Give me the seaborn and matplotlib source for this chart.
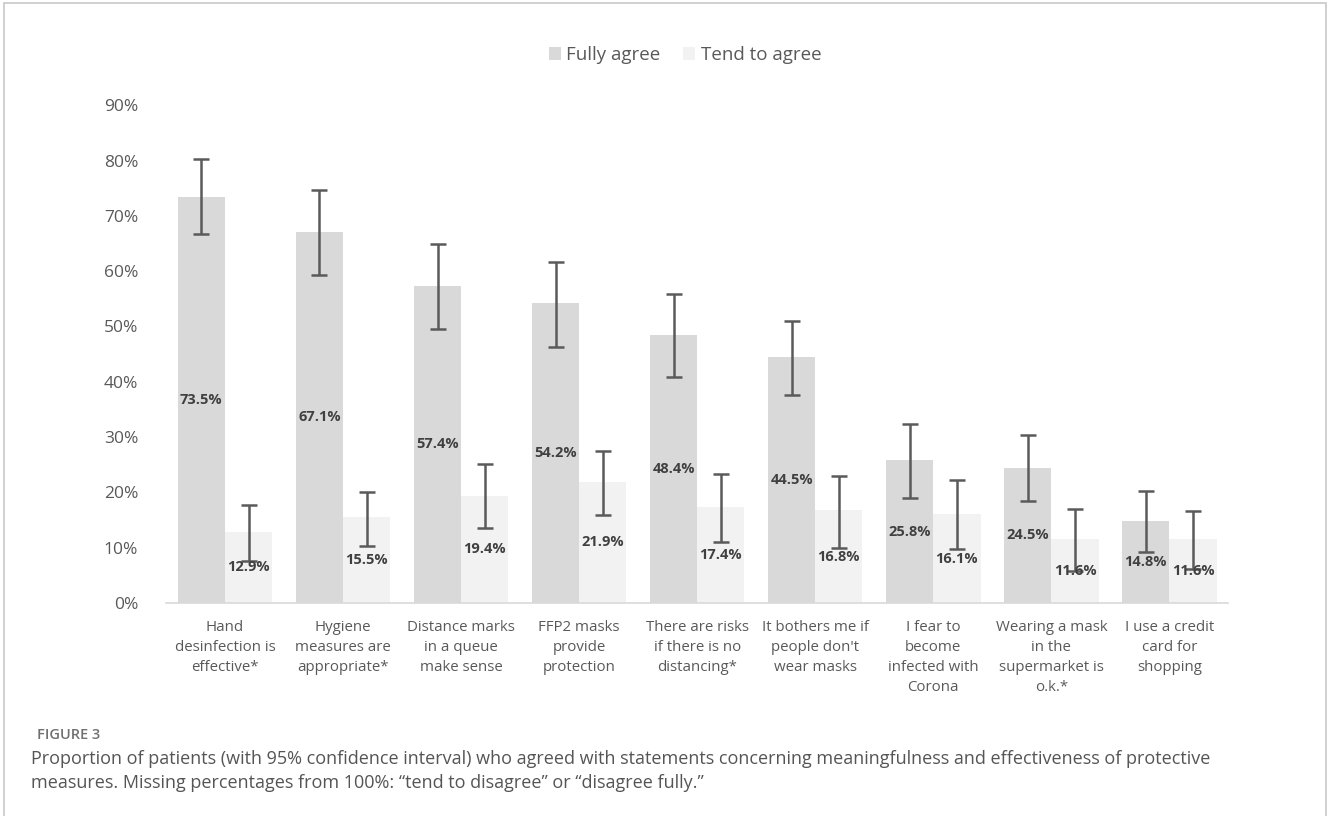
import numpy as np
import pandas as pd
import matplotlib
matplotlib.use("Agg")
import matplotlib.pyplot as plt
from matplotlib.patches import Rectangle
from matplotlib.ticker import PercentFormatter
import seaborn as sns

# Data
statements = [
    "Hand\ndesinfection is\neffective*",
    "Hygiene\nmeasures are\nappropriate*",
    "Distance marks\nin a queue\nmake sense",
    "FFP2 masks\nprovide\nprotection",
    "There are risks\nif there is no\ndistancing*",
    "It bothers me if\npeople don't\nwear masks",
    "I fear to\nbecome\ninfected with\nCorona",
    "Wearing a mask\nin the\nsupermarket is\no.k.*",
    "I use a credit\ncard for\nshopping",
]
fully_agree = [73.5, 67.1, 57.4, 54.2, 48.4, 44.5, 25.8, 24.5, 14.8]
fully_lo = [66.7, 59.3, 49.5, 46.3, 40.8, 37.6, 19.0, 18.4, 9.2]
fully_hi = [80.2, 74.6, 64.9, 61.7, 55.8, 51.0, 32.3, 30.3, 20.2]
tend_agree = [12.9, 15.5, 19.4, 21.9, 17.4, 16.8, 16.1, 11.6, 11.6]
tend_lo = [7.6, 10.4, 13.5, 16.0, 11.1, 10.0, 9.7, 5.7, 6.1]
tend_hi = [17.7, 20.1, 25.1, 27.5, 23.3, 23.0, 22.2, 17.0, 16.6]
responses = ["Fully agree", "Tend to agree"]

df = pd.DataFrame({
    "statement": statements * 2,
    "response": [responses[0]] * len(statements) + [responses[1]] * len(statements),
    "value": fully_agree + tend_agree,
})

sns.set_style("white")
plt.rcParams["font.family"] = ["Open Sans", "DejaVu Sans"]

fig = plt.figure(figsize=(13.28, 8.16), dpi=100)
ax = fig.add_axes([0.125, 0.261, 0.80, 0.610])

sns.barplot(data=df, x="statement", y="value", hue="response",
            palette=["#d9d9d9", "#f2f2f2"], width=0.8, saturation=1,
            errorbar=None, linewidth=0, ax=ax)

# confidence intervals + value labels
cis = [(fully_agree, fully_lo, fully_hi), (tend_agree, tend_lo, tend_hi)]
for cont, (vals, lo, hi) in zip(ax.containers, cis):
    xs = [p.get_x() + p.get_width() / 2 for p in cont]
    vals = np.array(vals)
    yerr = [vals - np.array(lo), np.array(hi) - vals]
    ax.errorbar(xs, vals, yerr=yerr, fmt="none", ecolor="#5a5a5a",
                elinewidth=1.8, capsize=6, capthick=1.8, zorder=3)
    ax.bar_label(cont, labels=[f"{v:.1f}%" for v in vals], label_type="center",
                 fontsize=10.5, fontweight="bold", color="#404040", zorder=4)

ax.set_xlim(-0.5, len(statements) - 0.5)
ax.set_ylim(0, 90)
ax.set_yticks(np.arange(0, 91, 10))
ax.yaxis.set_major_formatter(PercentFormatter(decimals=0))
ax.tick_params(axis="y", labelsize=12.5, labelcolor="#595959", length=0, pad=20)
ax.tick_params(axis="x", labelsize=10.8, labelcolor="#595959", length=0, pad=12)
for lab in ax.get_xticklabels():
    lab.set_linespacing(1.47)
ax.set_xlabel("")
ax.set_ylabel("")
for side in ["left", "right", "top"]:
    ax.spines[side].set_visible(False)
ax.spines["bottom"].set_color("#d9d9d9")
ax.spines["bottom"].set_linewidth(1.2)

ax.legend(loc="center", ncol=2, frameon=False, fontsize=13.5,
          handlelength=0.65, handleheight=0.65, handletextpad=0.3, columnspacing=1.2,
          labelcolor="#595959")
ax.get_legend().set_bbox_to_anchor((685 / 1328, 1 - 55 / 816), transform=fig.transFigure)

# caption
fig.text(37 / 1328, 1 - 735 / 816, "FIGURE 3", fontsize=10.5, fontweight="semibold",
         color="#707070", va="center")
fig.text(31 / 1328, 1 - 759 / 816,
         "Proportion of patients (with 95% confidence interval) who agreed with statements concerning meaningfulness and effectiveness of protective",
         fontsize=13, color="#555555", va="center")
fig.text(31 / 1328, 1 - 783 / 816,
         "measures. Missing percentages from 100%: \u201ctend to disagree\u201d or \u201cdisagree fully.\u201d",
         fontsize=13, color="#555555", va="center")

fig.add_artist(Rectangle((4 / 1328, -0.05), 1322 / 1328, 1.05 - 3 / 816,
                         transform=fig.transFigure, fill=False,
                         edgecolor="#c8c8c8", linewidth=1.2))

fig.savefig("out.png", dpi=100)
